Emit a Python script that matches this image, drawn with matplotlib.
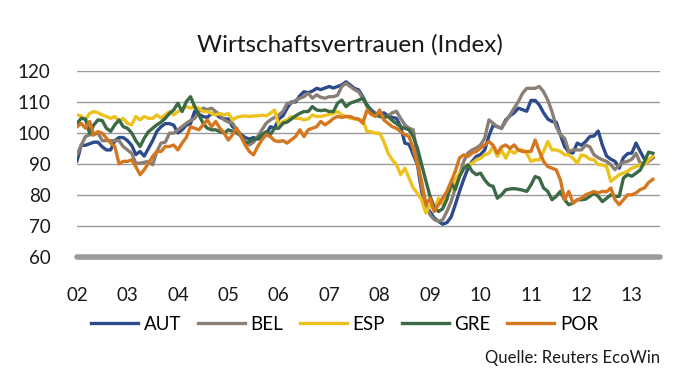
import numpy as np
import matplotlib
matplotlib.use("Agg")
import matplotlib.pyplot as plt

plt.rcParams['font.family'] = ['Lato', 'DejaVu Sans']

# monthly values, Jan 2002 .. Jun 2013
aut = [91, 96, 96, 96.5, 97, 97, 95.5, 94.5, 94.5, 97.5, 98.5, 98.5,
       97.5, 96, 93, 94, 92.5, 95, 97.5, 100.5, 102, 103, 103, 102.5,
       100, 101, 102.5, 103, 107, 106, 105.3, 105, 106.3, 106, 105, 104.5,
       104.5, 102, 101, 99.5, 98.5, 98, 98.5, 98, 98.5, 99.5, 102, 101.5,
       104.5, 105.5, 108, 110, 110, 112, 113.3, 113, 113.5, 114.4, 114, 114.5,
       115, 114.5, 115, 115.5, 116.5, 115.5, 114.4, 113.9, 111.7, 109, 107.4, 106.3,
       106, 106.5, 105.5, 105, 104.7, 102, 96.7, 96.3, 93, 89.7, 81, 76.8,
       74.5, 72.5, 71.4, 70.5, 71, 72.8, 76.8, 81.1, 85, 88.5, 90.8, 92.4,
       93, 94.5, 99, 102.5, 102, 101.5, 104.2, 105.5, 106.5, 108, 107.5, 107,
       110.5, 110.5, 109, 106.5, 104.5, 103.7, 103.5, 99.4, 95.6, 93.8, 93.5, 96.7,
       96, 97.2, 98.8, 99, 100.6, 96, 92.5, 91.5, 90.8, 88.6, 92, 93.3,
       93.5, 96.7, 94, 91.5, 91, 92]
bel = [93, 96, 98.8, 99.4, 99.4, 100, 97.5, 97.5, 97.5, 97.5, 97.5, 95.6,
       94.5, 93.4, 90.2, 90.2, 90.5, 90.8, 89.7, 94, 96.7, 97, 99.9, 99.9,
       101, 102, 103.1, 104, 104.7, 106.9, 108, 107.5, 108, 106.9, 105.8, 104.2,
       103.5, 103.2, 101, 99, 97.2, 96.1, 97, 98.8, 101, 103.1, 104.2, 105,
       105.8, 106.9, 109.6, 109.6, 110.5, 111.2, 111.7, 112.8, 111.2, 112.3, 111.5, 111.2,
       111.7, 111.7, 112.2, 115, 116, 115, 114, 113.3, 111.2, 108.5, 106.9, 106,
       105.8, 105, 105.5, 106.5, 107, 104.7, 102.6, 101.5, 101, 91.9, 82.2, 76.8,
       73.5, 72, 71.4, 71.9, 74.6, 77.8, 82.2, 86.5, 90.8, 93.5, 94.5, 95.1,
       96.1, 98.3, 104.2, 103.1, 102, 101.5, 103.7, 105.8, 108, 110.1, 112.8, 114.4,
       114.4, 114.4, 115, 113.3, 110.6, 106.9, 102, 99.4, 98.3, 94, 94.5, 94.5,
       94.5, 96.1, 95.5, 92.9, 92, 91.3, 90.8, 89.7, 88.1, 89.7, 90.5, 90.8,
       91.5, 93.4, 90.2, 90.2, 90.8, 91.9]
esp = [105.8, 105.5, 104.2, 106.3, 106.9, 106.5, 105.8, 105.3, 104.7, 105.3, 103.7, 104.7,
       103.1, 102.6, 105.3, 104.2, 105.3, 104.7, 104.7, 105.8, 104.8, 105.8, 106.9, 105.8,
       106.9, 107.5, 108.5, 108, 108.5, 108, 106.9, 106.9, 106.3, 105.8, 106.3, 105.8,
       106.3, 104.2, 105, 105.3, 105.5, 105.3, 105.5, 105.5, 105.7, 105.5, 106.3, 107.4,
       102.6, 103.7, 104.2, 105.3, 104.7, 104.7, 104.2, 104.5, 105.8, 105.3, 105.3, 105.6,
       106, 106.3, 106.9, 105.8, 105.3, 104.8, 104.5, 104.2, 104.2, 100.4, 100.4, 99.9,
       99.9, 97.2, 93.5, 91.3, 89.7, 86.5, 88.6, 85.4, 82.2, 80.5, 78.4, 74.1,
       76.8, 75.1, 78.9, 76.8, 80, 81.7, 84.9, 87, 88.6, 89.5, 90.2, 91.3,
       91.8, 92.9, 93.4, 95.6, 92.4, 94.5, 91.8, 94.5, 93.4, 94.5, 94.5, 93.4,
       90.8, 91.3, 91.3, 94, 97.2, 94.5, 94.5, 94, 92.9, 92.9, 91.8, 90.2,
       92.9, 92.5, 91.5, 91.3, 89.7, 89.7, 89.1, 84.3, 85.4, 86.5, 87, 87.6,
       88.6, 89.1, 89.7, 89.7, 91.3, 92.4]
gre = [103.1, 104.7, 104.5, 99.9, 102.6, 104.2, 104, 101.5, 100.5, 102.6, 104.2, 102,
       101.5, 100, 97.5, 95.6, 98.3, 100.4, 101.5, 102.6, 103.5, 104.7, 106.3, 107.4,
       109.6, 106.9, 110.1, 111.7, 108.5, 105.8, 103.1, 101.5, 101, 101, 100.4, 99.9,
       101, 100.5, 100, 99, 96.7, 97.2, 97.8, 98.3, 99.4, 100.4, 99.4, 101.5,
       101.5, 103.1, 103.5, 104.5, 105.5, 106.3, 106.9, 106.9, 108.5, 107.4, 107.2, 107.4,
       106.9, 106.9, 109.6, 110.6, 108.5, 109.6, 110.1, 110.6, 111.2, 109, 106.9, 105.8,
       105.3, 105, 105.3, 104, 103, 102, 101.5, 101, 98.8, 95.1, 89.7, 84.5,
       79.5, 76, 74.6, 75.5, 78.5, 83.8, 81.7, 85.9, 88.5, 89.7, 87.6, 86.5,
       87, 84.8, 83.2, 82.7, 78.9, 80, 81.6, 81.9, 82, 81.8, 81.5, 81.1,
       83.2, 85.9, 85.4, 82.2, 81.1, 78.4, 79.5, 81.1, 78.4, 76.8, 77.3, 78.4,
       78.4, 78.6, 79.5, 80.6, 79.5, 77.8, 78.9, 80, 79.5, 79.5, 85.4, 86.5,
       86, 87, 88, 90.8, 93.8, 93.4]
por = [102, 103.1, 101.5, 103.7, 99.4, 100.4, 99.9, 98.3, 96.7, 95.6, 90, 90.8,
       90.8, 91.3, 89.1, 86.5, 88.1, 90.2, 92.4, 94, 94, 95.6, 95.6, 96.1,
       94.5, 96.7, 98.5, 102, 101.5, 101, 102.6, 104.2, 102, 103.7, 101.5, 99.9,
       97.7, 99.4, 101.5, 98.8, 96.1, 94, 92.9, 95.6, 97.8, 99.4, 98.8, 97.5,
       97.2, 97.5, 96.7, 97.8, 98.8, 101, 98.8, 101, 101.5, 102, 103.7, 102.6,
       103.5, 104.7, 105.3, 105, 105.3, 105.3, 104.7, 104.5, 103.1, 107.4, 106, 105.3,
       107.4, 104.2, 103.1, 102, 101.5, 100.4, 99.4, 98.8, 95, 89.7, 84.3, 76.8,
       78.9, 74.6, 76.8, 79, 81.1, 84.3, 87.6, 91.9, 92.9, 92.4, 93.5, 94,
       95.1, 96.1, 97.2, 96, 93.4, 95.5, 96.1, 95, 96.1, 94.5, 94, 94,
       94, 97.7, 94, 90.8, 89.1, 88.6, 88.1, 84.8, 78.4, 81.1, 77.3, 78.4,
       78.9, 80, 80.5, 81.1, 80.6, 81.1, 81, 82.2, 78.4, 76.8, 78.4, 80,
       80, 80.6, 81.7, 82.2, 84, 85]

names = ["AUT", "BEL", "ESP", "GRE", "POR"]
colors = ["#2d4a8a", "#8a7f76", "#eec21c", "#3b6a45", "#d5771f"]
years = ["02", "03", "04", "05", "06", "07", "08", "09", "10", "11", "12", "13"]

fig = plt.figure(figsize=(6.89, 3.85), dpi=100)
ax = fig.add_axes([77/689, 1-256.7/385, 583/689, (256.7-71)/385])

months = np.arange(len(aut))
for s, n, c in zip([aut, bel, esp, gre, por], names, colors):
    ax.plot(months, s, color=c, lw=2.4, label=n)

ax.set_ylim(60, 120)
ax.set_xlim(0, 138.7)
ax.set_yticks(range(60, 121, 10))
ax.set_xticks(np.arange(len(years))*12)
ax.set_xticklabels(years)
for v in range(70, 121, 10):
    ax.axhline(v, color="#9a9a9a", lw=1.0, zorder=0)
ax.axhline(60, color="#9a9a9a", lw=4, solid_capstyle="round", clip_on=False, zorder=0)
for sp in ax.spines.values():
    sp.set_visible(False)
ax.tick_params(length=0, labelsize=13.5, colors="#1a1a1a")
ax.tick_params(axis="y", pad=19)
ax.tick_params(axis="x", pad=22)

fig.text(0.508, 0.883, "Wirtschaftsvertrauen (Index)", ha="center", va="center", fontsize=17.5, color="#1a1a1a")
fig.legend(loc="center", bbox_to_anchor=(0.5, 0.157), ncol=5, frameon=False, fontsize=13.5,
           handlelength=2.5, handletextpad=0.3, columnspacing=0.9)
fig.text(0.958, 0.07, "Quelle: Reuters EcoWin", ha="right", va="center", fontsize=12, color="#1a1a1a")

plt.savefig("out.png", dpi=100)
